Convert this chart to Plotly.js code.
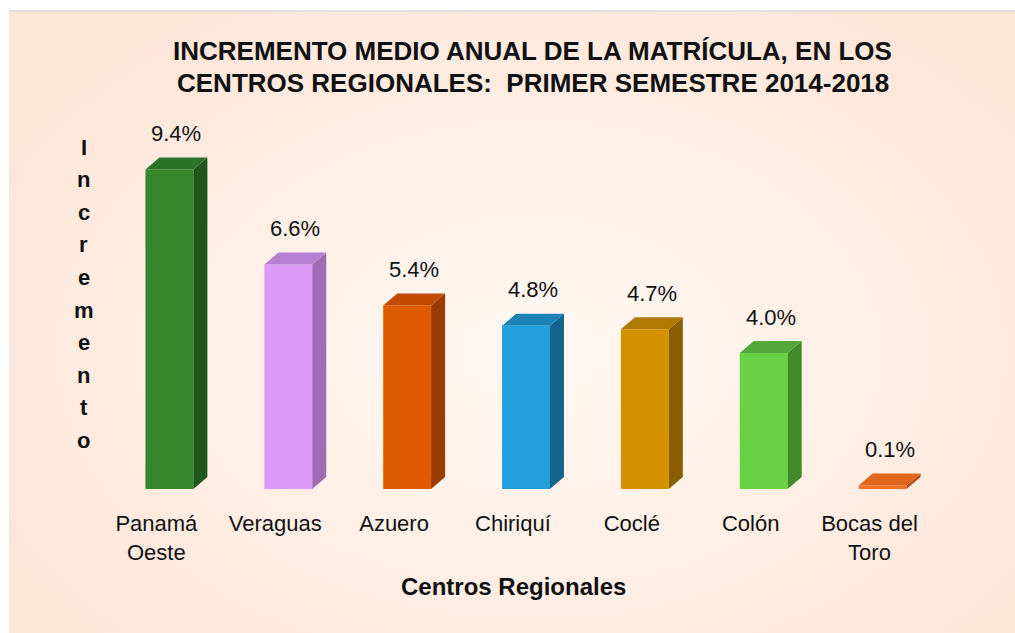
<!DOCTYPE html>
<html>
<head>
<meta charset="utf-8">
<script src="https://cdn.plot.ly/plotly-3.0.1.min.js"></script>
<style>
  html, body { margin: 0; padding: 0; background: #ffffff; }
  #bg {
    position: absolute; left: 9px; top: 10px; width: 1006px; height: 623px;
    box-sizing: border-box; border-top: 2px solid #e2e0de;
    background: radial-gradient(ellipse 60% 65% at 52% 55%, #fff8f3 0%, #fff1e8 45%, #fde5d8 100%);
  }
  #chart { position: absolute; left: 0; top: 0; width: 1015px; height: 633px; }
</style>
</head>
<body>
<div id="bg"></div>
<div id="chart"></div>
<script>
// ---- data ----
const categories = ["Panamá<br>Oeste", "Veraguas", "Azuero", "Chiriquí", "Coclé", "Colón", "Bocas del<br>Toro"];
const values = [9.4, 6.6, 5.4, 4.8, 4.7, 4.0, 0.1];
const valueLabels = ["9.4%", "6.6%", "5.4%", "4.8%", "4.7%", "4.0%", "0.1%"];
const titleLines = ["INCREMENTO MEDIO ANUAL DE LA MATRÍCULA, EN LOS", "CENTROS REGIONALES:  PRIMER SEMESTRE 2014-2018"];
const xTitle = "Centros Regionales";
const yTitle = "Incremento";

// ---- styles ----
const frontColors = ["#34872d", "#dd99f7", "#e05a00", "#239fdc", "#d49200", "#69d144", "#f06f22"];
const sideColors  = ["#1e561b", "#9d6db6", "#9a3c00", "#15648c", "#8a5f00", "#3f8a29", "#b24f15"];
const topColors   = ["#2b7326", "#b780d2", "#c24b00", "#1b83b8", "#b07900", "#52a93a", "#e0661e"];
const FONT = "Liberation Sans, Arial, sans-serif";

const W = 0.403;   // bar width (category units)
const DX = 0.118;  // depth offset x (category units)
const DY = 0.353;  // depth offset y (value units)
const LABEL_SHIFT = 0.11; // tick labels sit slightly left of bar centres

// plot area in pixels
const L = 109.5, R = 942.5, T = 149, B = 489;
const px2fx = p => (p - L) / (R - L);
const py2fy = p => (B - p) / (B - T);

const xs = categories.map((c, i) => i);
const traces = [];

traces.push({
  type: "bar", x: xs, y: values, width: W,
  marker: { color: frontColors, line: { width: 0 } },
  hoverinfo: "skip", showlegend: false
});

values.forEach((v, i) => {
  const xl = i - W / 2, xr = i + W / 2;
  traces.push({
    type: "scatter", mode: "lines", fill: "toself",
    x: [xr, xr + DX, xr + DX, xr, xr],
    y: [0, DY, v + DY, v, 0],
    line: { width: 0, color: sideColors[i] }, fillcolor: sideColors[i],
    hoverinfo: "skip", showlegend: false
  });
  traces.push({
    type: "scatter", mode: "lines", fill: "toself",
    x: [xl, xl + DX, xr + DX, xr, xl],
    y: [v, v + DY, v + DY, v, v],
    line: { width: 0, color: topColors[i] }, fillcolor: topColors[i],
    hoverinfo: "skip", showlegend: false
  });
});

const annotations = [];
values.forEach((v, i) => {
  annotations.push({
    x: i + DX / 2, y: v, xref: "x", yref: "y",
    text: valueLabels[i], showarrow: false,
    yanchor: "middle", yshift: 36,
    font: { family: FONT, size: 22, color: "#111111" }
  });
});

titleLines.forEach((t, k) => {
  annotations.push({
    x: px2fx(533), y: py2fy(51 + 32 * k), xref: "paper", yref: "paper",
    text: "<b>" + t + "</b>", showarrow: false, xanchor: "center", yanchor: "middle",
    font: { family: FONT, size: 26, color: "#111111" }
  });
});

annotations.push({
  x: px2fx(513), y: py2fy(586), xref: "paper", yref: "paper",
  text: "<b>" + xTitle + "</b>", showarrow: false, xanchor: "center", yanchor: "middle",
  font: { family: FONT, size: 24, color: "#111111" }
});

yTitle.split("").forEach((ch, k) => {
  annotations.push({
    x: px2fx(83), y: py2fy(147 + 32.6 * k), xref: "paper", yref: "paper",
    text: "<b>" + ch + "</b>", showarrow: false, xanchor: "center", yanchor: "middle",
    font: { family: FONT, size: 22, color: "#111111" }
  });
});

const layout = {
  width: 1015, height: 633,
  margin: { l: L, r: 1015 - R, t: T, b: 633 - B, pad: 0 },
  paper_bgcolor: "rgba(0,0,0,0)", plot_bgcolor: "rgba(0,0,0,0)",
  showlegend: false,
  xaxis: {
    range: [-0.5, 6.5], tickvals: xs.map(i => i - LABEL_SHIFT), ticktext: categories,
    showgrid: false, zeroline: false, showline: false, ticks: "",
    ticklabelstandoff: 19,
    tickfont: { family: FONT, size: 22, color: "#111111" },
    fixedrange: true
  },
  yaxis: {
    range: [0, 10], showgrid: false, zeroline: false, showline: false,
    showticklabels: false, ticks: "", fixedrange: true
  },
  annotations: annotations
};

Plotly.newPlot("chart", traces, layout, { displayModeBar: false, staticPlot: true });
</script>
</body>
</html>
